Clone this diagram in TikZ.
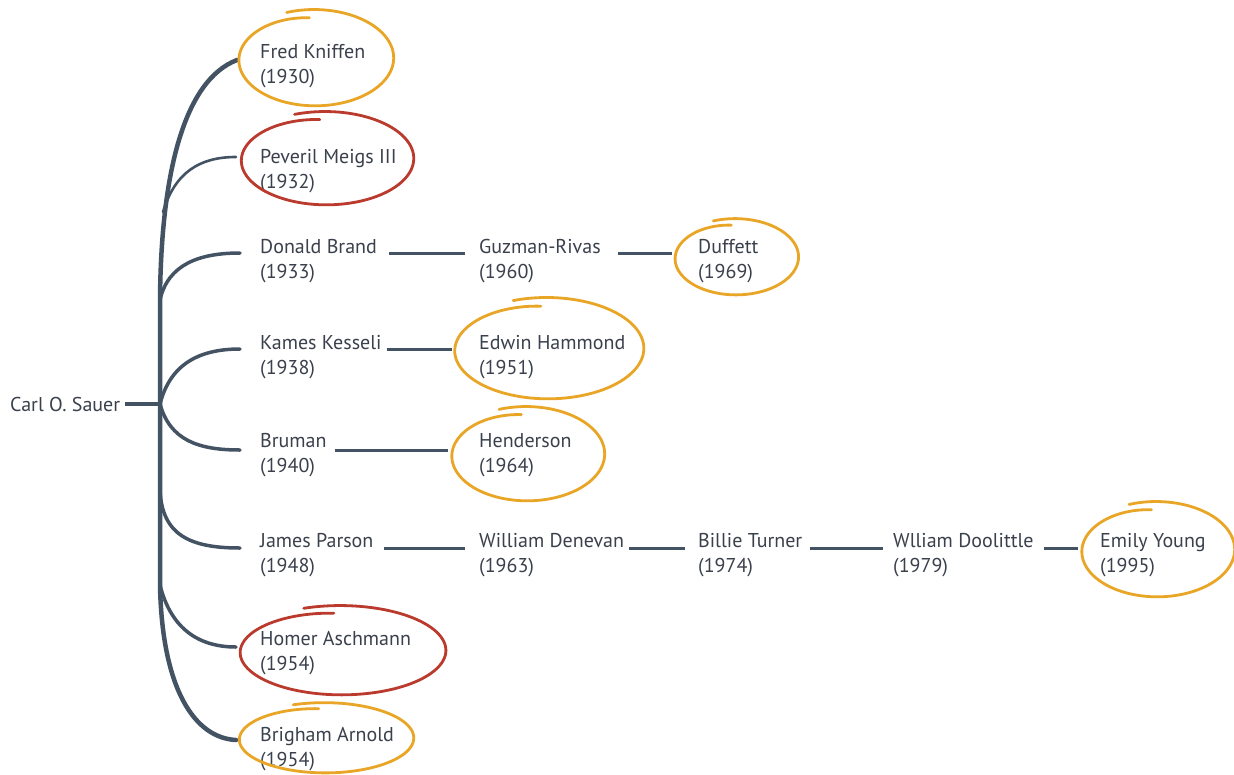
\documentclass[tikz,border=0pt]{standalone}
\usepackage{fontspec}
\setmainfont{PT Sans}
\definecolor{ln}{RGB}{68,83,100}
\definecolor{txt}{RGB}{58,64,76}
\definecolor{orng}{RGB}{233,166,38}
\definecolor{rd}{RGB}{186,58,45}
\newcommand\hoop[6]{%
  \begin{scope}[shift={(#1.west)}]
    \draw[hoopline,#6] plot[smooth,samples=120,domain=250:626]
      ({#2+#4*(1.01-0.17*((\x-250)/376)^4)*cos(\x)},{#3+#5*(1.01-0.17*((\x-250)/376)^4)*sin(\x)});
  \end{scope}}
\begin{document}
\begin{tikzpicture}[x=1pt,y=-1pt,
  person/.style={anchor=west,inner sep=0pt,align=left,text=txt,font=\fontsize{20}{24.5}\selectfont},
  trunk/.style={draw=ln,line width=4.5pt,line cap=round},
  branch/.style={draw=ln,line width=3.5pt,line cap=round},
  link/.style={draw=ln,line width=3pt},
  hoopline/.style={line width=2.8pt,line cap=round}]
\useasboundingbox (0,0) rectangle (1234,774);
\fill[white] (0,0) rectangle (1234,774);

% people
\node[person] (carl) at (10,404) {Carl O. Sauer};
\node[person] (fred) at (260,66) {Fred Kniffen\\(1930)};
\node[person] (pev) at (260,171) {Peveril Meigs III\\(1932)};
\node[person] (don) at (260,261) {Donald Brand\\(1933)};
\node[person] (kam) at (260,357) {Kames Kesseli\\(1938)};
\node[person] (bru) at (260,455) {Bruman\\(1940)};
\node[person] (jam) at (260,555) {James Parson\\(1948)};
\node[person] (hom) at (260,653) {Homer Aschmann\\(1954)};
\node[person] (bri) at (260,749) {Brigham Arnold\\(1954)};
\node[person] (guz) at (479,261) {Guzman-Rivas\\(1960)};
\node[person] (duf) at (698,261) {Duffett\\(1969)};
\node[person] (edw) at (479,357) {Edwin Hammond\\(1951)};
\node[person] (hen) at (479,455) {Henderson\\(1964)};
\node[person] (wil) at (479,555) {William Denevan\\(1963)};
\node[person] (bil) at (698,555) {Billie Turner\\(1974)};
\node[person] (doo) at (893,555) {Wlliam Doolittle\\(1979)};
\node[person] (emi) at (1100,555) {Emily Young\\(1995)};

% trunk junctions
\coordinate (j) at (160,404);
\coordinate (ta) at (160,300);
\coordinate (tb) at (160,585);
\coordinate (tp) at (163,212);
\coordinate (tj) at (160,490);

\draw[link,line width=3.5pt] ([xshift=5pt]carl.east) -- (j);
\draw[trunk] ([xshift=-23pt,yshift=6pt]fred.west) .. controls (185,80) and (161,170) .. (ta)
  -- (tb) .. controls (162,690) and (195,738) .. ([xshift=-24pt,yshift=9pt]bri.west);
\draw[branch,line width=2.6pt] (tp) .. controls (175,172) and (200,157) .. ([xshift=-24pt,yshift=14pt]pev.west);
\draw[branch] (ta) .. controls (168,264) and (200,253) .. ([xshift=-20pt,yshift=8pt]don.west);
\draw[branch] (j) .. controls (170,365) and (198,349) .. ([xshift=-20pt,yshift=8pt]kam.west);
\draw[branch] (j) .. controls (170,440) and (198,450) .. ([xshift=-20pt,yshift=5pt]bru.west);
\draw[branch] (tj) .. controls (162,535) and (190,548) .. ([xshift=-20pt,yshift=7pt]jam.west);
\draw[branch] (tb) .. controls (170,625) and (195,647) .. ([xshift=-24pt,yshift=6pt]hom.west);

% links
\draw[link] ([xshift=12pt,yshift=8pt]don.east) -- ([xshift=-14pt,yshift=8pt]guz.west);
\draw[link] ([xshift=17pt,yshift=8pt]guz.east) -- ([xshift=-26pt,yshift=8pt]duf.west);
\draw[link] ([xshift=5pt,yshift=8pt]kam.east) -- ([xshift=-27pt,yshift=8pt]edw.west);
\draw[link] ([xshift=8pt,yshift=5pt]bru.east) -- ([xshift=-31pt,yshift=5pt]hen.west);
\draw[link] ([xshift=10pt,yshift=7pt]jam.east) -- ([xshift=-14pt,yshift=7pt]wil.west);
\draw[link] ([xshift=5pt,yshift=7pt]wil.east) -- ([xshift=-13pt,yshift=7pt]bil.west);
\draw[link] ([xshift=8pt,yshift=7pt]bil.east) -- ([xshift=-10pt,yshift=7pt]doo.west);
\draw[link] ([xshift=10pt,yshift=7pt]doo.east) -- ([xshift=-22pt,yshift=7pt]emi.west);

% circles
\hoop{fred}{54}{-8}{79}{48}{orng}
\hoop{pev}{65}{-12.5}{88}{46.5}{rd}
\hoop{duf}{37}{-4}{63}{38}{orng}
\hoop{edw}{67.5}{-8.5}{96.5}{50.5}{orng}
\hoop{hen}{47}{-1}{78}{47}{orng}
\hoop{emi}{56}{-5.5}{78}{47.5}{orng}
\hoop{hom}{80}{-2.5}{105}{44.5}{rd}
\hoop{bri}{64}{-11}{89}{35}{orng}
\end{tikzpicture}
\end{document}
